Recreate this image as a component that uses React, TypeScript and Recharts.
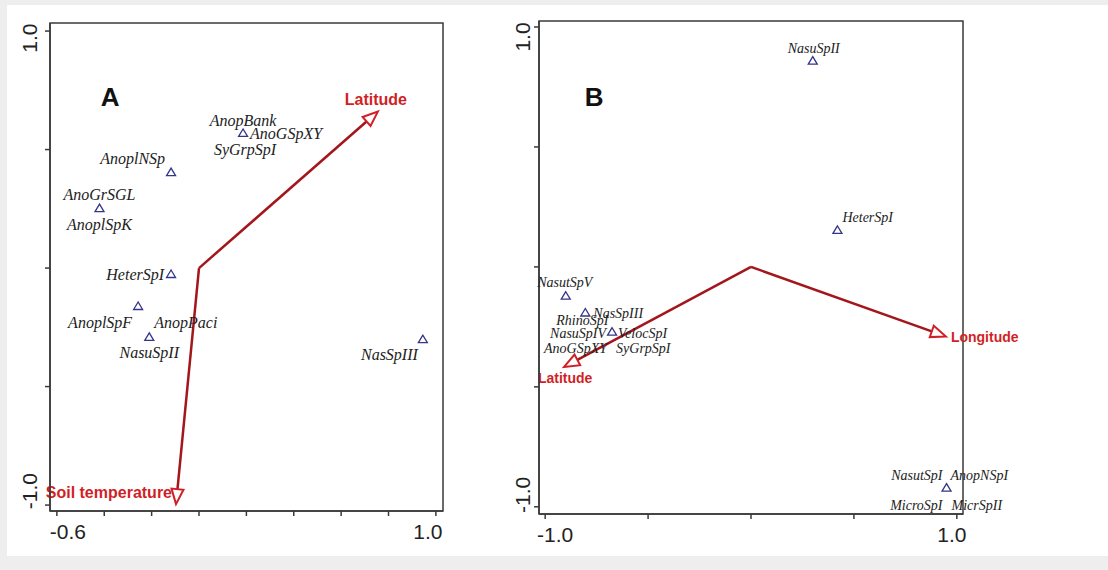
import React from 'react';
import { ScatterChart, Scatter, XAxis, YAxis, ReferenceLine, ReferenceArea, ReferenceDot } from 'recharts';

// Panel A: species scores on the first two ordination axes
const speciesA = [
    { x: 0.186, y: 0.57, labels: ['AnopBank', 'AnoGSpXY', 'SyGrpSpI'] },
    { x: -0.118, y: 0.405, labels: ['AnoplNSp'] },
    { x: -0.42, y: 0.253, labels: ['AnoGrSGL', 'AnoplSpK'] },
    { x: -0.118, y: -0.025, labels: ['HeterSpI'] },
    { x: -0.257, y: -0.16, labels: ['AnoplSpF'] },
    { x: -0.21, y: -0.29, labels: ['AnopPaci', 'NasuSpII'] },
    { x: 0.945, y: -0.3, labels: ['NasSpIII'] },
];

// Panel A: environmental vectors
const envA = [
    { name: 'Latitude', x: 0.755, y: 0.66 },
    { name: 'Soil temperature', x: -0.097, y: -0.996 },
];

// Panel B
const speciesB = [
    { x: 0.3, y: 0.86, labels: ['NasuSpII'] },
    { x: 0.42, y: 0.154, labels: ['HeterSpI'] },
    { x: -0.9, y: -0.12, labels: ['NasutSpV'] },
    { x: -0.805, y: -0.19, labels: ['NasSpIII', 'RhinoSpI'] },
    { x: -0.675, y: -0.27, labels: ['NasuSpIV', 'VelocSpI', 'AnoGSpXY', 'SyGrpSpI'] },
    { x: 0.95, y: -0.92, labels: ['NasutSpI', 'AnopNSpI', 'MicroSpI', 'MicrSpII'] },
];

const envB = [
    { name: 'Longitude', x: 0.947, y: -0.29 },
    { name: 'Latitude', x: -0.908, y: -0.417 },
];

const xTicksA = [-0.6, -0.4, -0.2, 0, 0.2, 0.4, 0.6, 0.8, 1.0];
const yTicksA = [-1.0, -0.5, 0, 0.5, 1.0];
const xTicksB = [-1.0, -0.5, 0, 0.5, 1.0];
const yTicksB = [-1.0, -0.5, 0, 0.5, 1.0];

type Off = [number, number, 'start' | 'middle' | 'end'];

// label placement relative to the point / arrow tip (px)
const offA: Record<string, Off> = {
    AnopBank: [0, -7, 'middle'],
    AnoGSpXY: [7, 6, 'start'],
    SyGrpSpI: [2, 22, 'middle'],
    AnoplNSp: [-6, -8, 'end'],
    AnoGrSGL: [0, -8, 'middle'],
    AnoplSpK: [0, 22, 'middle'],
    HeterSpI: [-7, 6, 'end'],
    AnoplSpF: [-6, 22, 'end'],
    AnopPaci: [5, -9, 'start'],
    NasuSpII: [0, 21, 'middle'],
    NasSpIII: [-5, 21, 'end'],
    Latitude: [-2, -7, 'middle'],
    'Soil temperature': [-4, -6, 'end'],
};

const offB: Record<string, Off> = {
    NasuSpII: [1, -8, 'middle'],
    HeterSpI: [5, -8, 'start'],
    NasutSpV: [-1, -9, 'middle'],
    NasSpIII: [8, 6, 'start'],
    RhinoSpI: [-3, 13, 'middle'],
    NasuSpIV: [-6, 6, 'end'],
    VelocSpI: [6, 6, 'start'],
    AnoGSpXY: [-5, 21, 'end'],
    SyGrpSpI: [4, 21, 'start'],
    NasutSpI: [-4, -8, 'end'],
    AnopNSpI: [4, -8, 'start'],
    MicroSpI: [-4, 22, 'end'],
    MicrSpII: [5, 22, 'start'],
    Longitude: [5, 6, 'start'],
    Latitude: [1, 16, 'middle'],
};

const SERIF = '"Liberation Serif", "Times New Roman", serif';
const SANS = '"Liberation Sans", Arial, sans-serif';
const AXIS = '#3a3a3a';
const ARROW_LINE = '#a3161b';
const ARROW_RED = '#d11f26';

const speciesShape = (offsets: Record<string, Off>, fontSize: number) => (p: any) => {
    const { cx, cy, payload } = p;
    return (
        <g>
            <polygon
                points={`${cx},${cy - 4} ${cx - 4.5},${cy + 3.5} ${cx + 4.5},${cy + 3.5}`}
                fill="none"
                stroke="#34348a"
                strokeWidth={1.3}
            />
            {payload.labels.map((name: string) => {
                const o = offsets[name] || [0, -8, 'middle'];
                return (
                    <text key={name} x={cx + o[0]} y={cy + o[1]} textAnchor={o[2]}
                        fontFamily={SERIF} fontStyle="italic" fontSize={fontSize} fill="#222">
                        {name}
                    </text>
                );
            })}
        </g>
    );
};

const arrowShape = (name: string, offsets: Record<string, Off>, fontSize: number) => (p: any) => {
    const { x1, y1, x2, y2 } = p;
    const dx = x2 - x1, dy = y2 - y1;
    const len = Math.hypot(dx, dy) || 1;
    const ux = dx / len, uy = dy / len;
    const L = 15, W = 6;
    const bx = x2 - ux * L, by = y2 - uy * L;
    const pts = `${x2},${y2} ${bx - uy * W},${by + ux * W} ${bx + uy * W},${by - ux * W}`;
    const o = offsets[name];
    return (
        <g>
            <line x1={x1} y1={y1} x2={bx} y2={by} stroke={ARROW_LINE} strokeWidth={2.5} />
            <polygon points={pts} fill="#fff" stroke={ARROW_RED} strokeWidth={2} />
            <text x={x2 + o[0]} y={y2 + o[1]} textAnchor={o[2]} fontFamily={SANS}
                fontWeight="bold" fontSize={fontSize} fill={ARROW_RED}>
                {name}
            </text>
        </g>
    );
};

// only the end ticks carry a label, nudged inwards like the original
const xTick = (lo: number, hi: number, shiftLo: number, shiftHi: number) => (p: any) => {
    const v = p.payload.value;
    if (v !== lo && v !== hi) return <g />;
    const x = p.x + (v === lo ? shiftLo : shiftHi);
    return (
        <text x={x} y={p.y + 21} textAnchor="middle" fontFamily={SANS} fontSize={21} fill="#222">
            {v.toFixed(1)}
        </text>
    );
};

const yTick = (lo: number, hi: number, dx: number, shiftLo: number, shiftHi: number) => (p: any) => {
    const v = p.payload.value;
    if (v !== lo && v !== hi) return <g />;
    const x = p.x + dx;
    const y = p.y + (v === lo ? shiftLo : shiftHi);
    return (
        <text x={x} y={y} transform={`rotate(-90 ${x} ${y})`} textAnchor="middle"
            dominantBaseline="central" fontFamily={SANS} fontSize={21} fill="#222">
            {v.toFixed(1)}
        </text>
    );
};

const panelLetter = (letter: string) => (p: any) => (
    <text x={p.cx} y={p.cy} textAnchor="middle" dominantBaseline="central"
        fontFamily={SANS} fontWeight="bold" fontSize={26} fill="#111">
        {letter}
    </text>
);

const App: React.FC = () => {
    const domXA: [number, number] = [-0.629, 1.03];
    const domYA: [number, number] = [-1.025, 1.034];
    const domXB: [number, number] = [-1.03, 1.03];
    const domYB: [number, number] = [-1.03, 1.025];

    return (
        <div style={{ position: 'absolute', left: 0, top: 0, width: 1108, height: 570, background: '#eeeeee' }}>
            <div style={{ position: 'absolute', left: 7, top: 5, width: 1101, height: 551, background: '#fff' }} />

            <div style={{ position: 'absolute', left: 0, top: 0 }}>
                <ScatterChart width={480} height={570} margin={{ top: 23, right: 37, left: 0, bottom: 0 }}>
                    <XAxis type="number" dataKey="x" domain={domXA} ticks={xTicksA} interval={0}
                        height={59} tickSize={5} stroke={AXIS} strokeWidth={1.5}
                        tick={xTick(-0.6, 1.0, 11, -8)} />
                    <YAxis type="number" dataKey="y" domain={domYA} ticks={yTicksA} interval={0}
                        width={50} tickSize={5} stroke={AXIS} strokeWidth={1.5}
                        tick={yTick(-1.0, 1.0, -13.5, -14, 7)} />
                    <ReferenceArea x1={domXA[0]} x2={domXA[1]} y1={domYA[0]} y2={domYA[1]}
                        fill="none" stroke={AXIS} strokeWidth={1.5} fillOpacity={0} ifOverflow="visible" />
                    <ReferenceDot x={-0.375} y={0.72} ifOverflow="visible" shape={panelLetter('A')} />
                    {envA.map(e => (
                        <ReferenceLine key={e.name} ifOverflow="visible"
                            segment={[{ x: 0, y: 0 }, { x: e.x, y: e.y }]}
                            shape={arrowShape(e.name, offA, 16)} />
                    ))}
                    <Scatter data={speciesA} isAnimationActive={false} shape={speciesShape(offA, 16)} />
                </ScatterChart>
            </div>

            <div style={{ position: 'absolute', left: 480, top: 0 }}>
                <ScatterChart width={628} height={570} margin={{ top: 21, right: 145, left: 0, bottom: 0 }}>
                    <XAxis type="number" dataKey="x" domain={domXB} ticks={xTicksB} interval={0}
                        height={56} tickSize={5} stroke={AXIS} strokeWidth={1.5}
                        tick={xTick(-1.0, 1.0, 10, -5)} />
                    <YAxis type="number" dataKey="y" domain={domYB} ticks={yTicksB} interval={0}
                        width={59} tickSize={5} stroke={AXIS} strokeWidth={1.5}
                        tick={yTick(-1.0, 1.0, -9.5, -12, 10)} />
                    <ReferenceArea x1={domXB[0]} x2={domXB[1]} y1={domYB[0]} y2={domYB[1]}
                        fill="none" stroke={AXIS} strokeWidth={1.5} fillOpacity={0} ifOverflow="visible" />
                    <ReferenceDot x={-0.762} y={0.71} ifOverflow="visible" shape={panelLetter('B')} />
                    {envB.map(e => (
                        <ReferenceLine key={e.name} ifOverflow="visible"
                            segment={[{ x: 0, y: 0 }, { x: e.x, y: e.y }]}
                            shape={arrowShape(e.name, offB, 14)} />
                    ))}
                    <Scatter data={speciesB} isAnimationActive={false} shape={speciesShape(offB, 14)} />
                </ScatterChart>
            </div>
        </div>
    );
};

export default App;
